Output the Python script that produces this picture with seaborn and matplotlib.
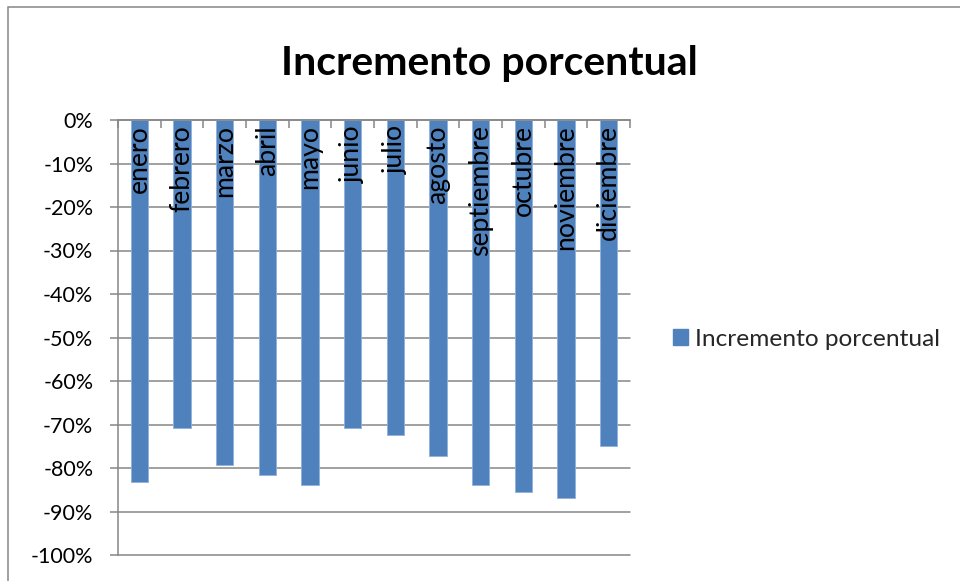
import matplotlib
matplotlib.use("Agg")
import matplotlib.pyplot as plt
import seaborn as sns
import pandas as pd
from matplotlib.patches import Patch, Rectangle
from matplotlib.ticker import FixedLocator, FuncFormatter

# Monthly percentage change
meses = ["enero", "febrero", "marzo", "abril", "mayo", "junio",
         "julio", "agosto", "septiembre", "octubre", "noviembre", "diciembre"]
incremento = [-83.3, -70.8, -79.2, -81.5, -83.8, -70.8,
              -72.4, -77.3, -84.0, -85.5, -86.8, -75.0]
y_ticks = [0, -10, -20, -30, -40, -50, -60, -70, -80, -90, -100]
titulo = "Incremento porcentual"
serie = "Incremento porcentual"

BAR = "#4F81BD"
GRID = "#868686"

sns.set_theme(style="white")
plt.rcParams["font.family"] = ["Lato", "DejaVu Sans"]

fig = plt.figure(figsize=(9.6, 5.81), dpi=100)
ax = fig.add_axes([118 / 960, 1 - 555 / 581, 512 / 960, 435 / 581])

df = pd.DataFrame({"mes": meses, "valor": incremento})
sns.barplot(data=df, x="mes", y="valor", color=BAR, saturation=1,
            width=0.4, edgecolor="#8FB1DB", linewidth=0.6, ax=ax, zorder=3)

ax.set_xlim(-0.5, len(meses) - 0.5)
ax.set_ylim(-100, 0)

# horizontal gridlines
ax.yaxis.set_major_locator(FixedLocator(y_ticks))
ax.yaxis.set_major_formatter(FuncFormatter(lambda v, _: f"{int(round(v))}%"))
for v in y_ticks:
    ax.axhline(v, color=GRID, lw=1.1, zorder=1, clip_on=False)

for s in ["right", "bottom"]:
    ax.spines[s].set_visible(False)
for s in ["left", "top"]:
    ax.spines[s].set_color(GRID)
    ax.spines[s].set_linewidth(1.1)
    ax.spines[s].set_zorder(4)

ax.tick_params(axis="y", which="major", left=True, length=5.8, width=1.1,
               color=GRID, pad=12, labelsize=15.5, labelcolor="black")

# category axis sits at the 0% line, tick marks between categories
ax.set_xlabel("")
ax.set_ylabel("")
ax.xaxis.set_major_locator(FixedLocator([i - 0.5 for i in range(len(meses) + 1)]))
ax.set_xticklabels([])
ax.tick_params(axis="x", which="major", bottom=False, top=True, direction="in",
               length=5.8, width=1.1, color=GRID, labeltop=False, labelbottom=False)

for i, m in enumerate(meses):
    ax.text(i, -1.2, m, rotation=90, ha="center", va="top",
            fontsize=19.2, color="black", zorder=5)

fig.text(489 / 960, 1 - 75 / 581, titulo, ha="center", va="baseline",
         fontsize=29.5, fontweight="bold", color="black")

fig.legend(handles=[Patch(facecolor=BAR, edgecolor=BAR)], labels=[serie],
           loc="center left", bbox_to_anchor=(673 / 960, 1 - 339 / 581),
           frameon=False, fontsize=17.6, handlelength=0.6, handleheight=0.6,
           handletextpad=0.3, borderpad=0, borderaxespad=0)

# chart border
fig.patches.append(Rectangle((8 / 960, -0.5), 1.0, 0.5 + (1 - 7 / 581),
                             transform=fig.transFigure, fill=False,
                             edgecolor=GRID, lw=1.1))

fig.savefig("out.png", dpi=100)
